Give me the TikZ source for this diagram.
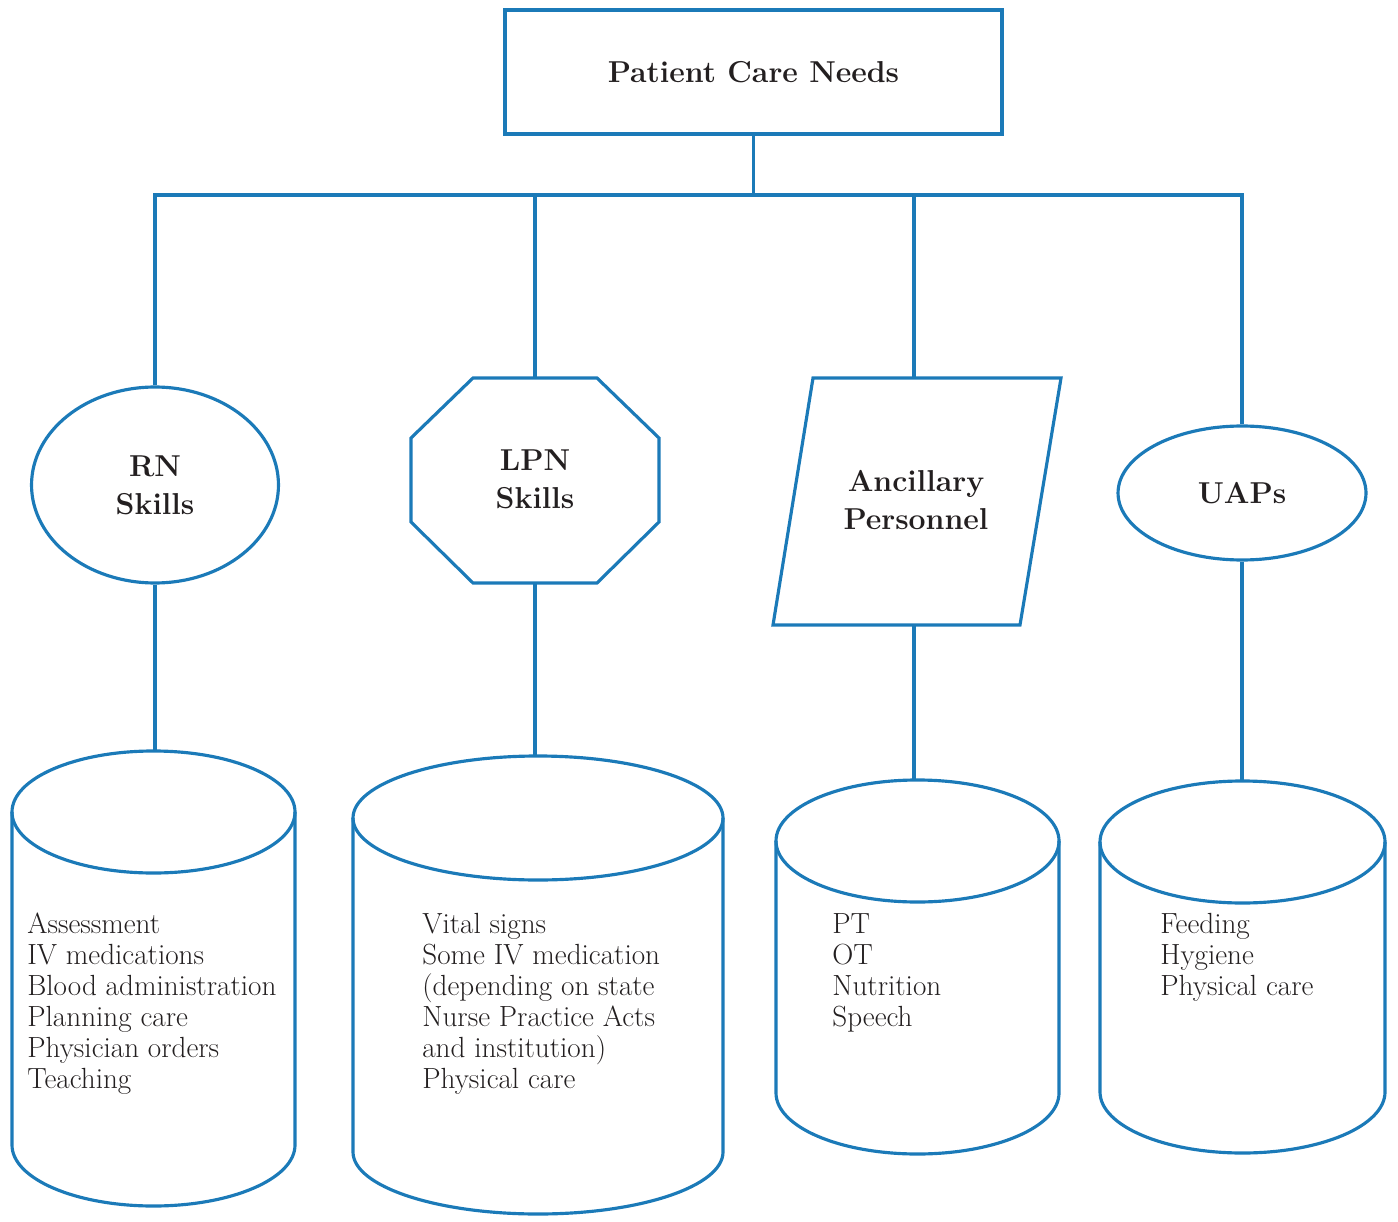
\documentclass[tikz,border=0pt]{standalone}
\usetikzlibrary{shapes.geometric}

\definecolor{lineblue}{RGB}{27,122,184}
\definecolor{ink}{RGB}{35,31,32}

\tikzset{
  conn/.style={draw=lineblue, line width=1.8pt},
  head/.style={font=\fontsize{17.2}{21.5}\selectfont\bfseries, text=ink, align=center},
  list/.style={font=\fontsize{16.6}{17.6}\selectfont, text=ink, align=left, anchor=north west, inner sep=0pt},
}

\begin{document}
\begin{tikzpicture}[x=0.02cm, y=-0.02cm]

\useasboundingbox (0,0) rectangle (1398,1222);

% top box
\node[conn, head, rectangle, minimum width=9.94cm, minimum height=2.48cm] (needs) at (753.5,72) {Patient Care Needs};

% second row
\node[conn, head, ellipse, minimum width=4.94cm, minimum height=3.92cm, inner sep=0pt] (rn) at (155,485) {RN\\Skills};

\node[head] (lpn) at (535,479) {LPN\\Skills};
\draw[conn] (473,378) -- (597,378) -- (659,438) -- (659,522) -- (597,583) -- (473,583) -- (411,522) -- (411,438) -- cycle;
\coordinate (lpntop) at (535,378);
\coordinate (lpnbot) at (535,583);

\node[head] (anc) at (916,500) {Ancillary\\Personnel};
\draw[conn] (813,378) -- (1061,378) -- (1020,625) -- (773,625) -- cycle;
\coordinate (anctop) at (914,378);
\coordinate (ancbot) at (914,625);

\node[conn, head, ellipse, minimum width=4.96cm, minimum height=2.68cm, inner sep=0pt] (uap) at (1242,493) {UAPs};

% bus
\coordinate (bus) at (0,195);
\draw[conn] (needs.south) -- (needs.south |- bus);
\draw[conn] (rn.north) -- (rn.north |- bus) -- (uap.north |- bus) -- (uap.north);
\draw[conn] (lpntop) -- (lpntop |- bus);
\draw[conn] (anctop) -- (anctop |- bus);

% cylinders
\foreach \nm/\cx/\rx/\yc/\ry/\yb in {rncyl/153.5/141.5/812/61/1145, lpncyl/538/185/818/62/1152, anccyl/917.5/141.5/841/61/1093, uapcyl/1242.5/142.5/842/61/1092}{
  \draw[conn] (\cx,\yc) ellipse[x radius=\rx, y radius=\ry];
  \draw[conn] (\cx-\rx,\yc) -- (\cx-\rx,\yb) arc[start angle=180, end angle=0, x radius=\rx, y radius=\ry] -- (\cx+\rx,\yc);
  \coordinate (\nm) at (\cx,\yc-\ry);
}

\draw[conn] (rn.south) -- (rn.south |- rncyl);
\draw[conn] (lpnbot) -- (lpnbot |- lpncyl);
\draw[conn] (ancbot) -- (ancbot |- anccyl);
\draw[conn] (uap.south) -- (uap.south |- uapcyl);

% lists
\node[list] (rnlist) at (27,913) {Assessment\\IV medications\\Blood administration\\Planning care\\Physician orders\\Teaching};
\node[list] (lpnlist) at (422,913) {Vital signs\\Some IV medication\\(depending on state\\Nurse Practice Acts\\and institution)\\Physical care};
\node[list] (anclist) at (832,913) {PT\\OT\\Nutrition\\Speech};
\node[list] (uaplist) at (1160,913) {Feeding\\Hygiene\\Physical care};

\end{tikzpicture}
\end{document}
